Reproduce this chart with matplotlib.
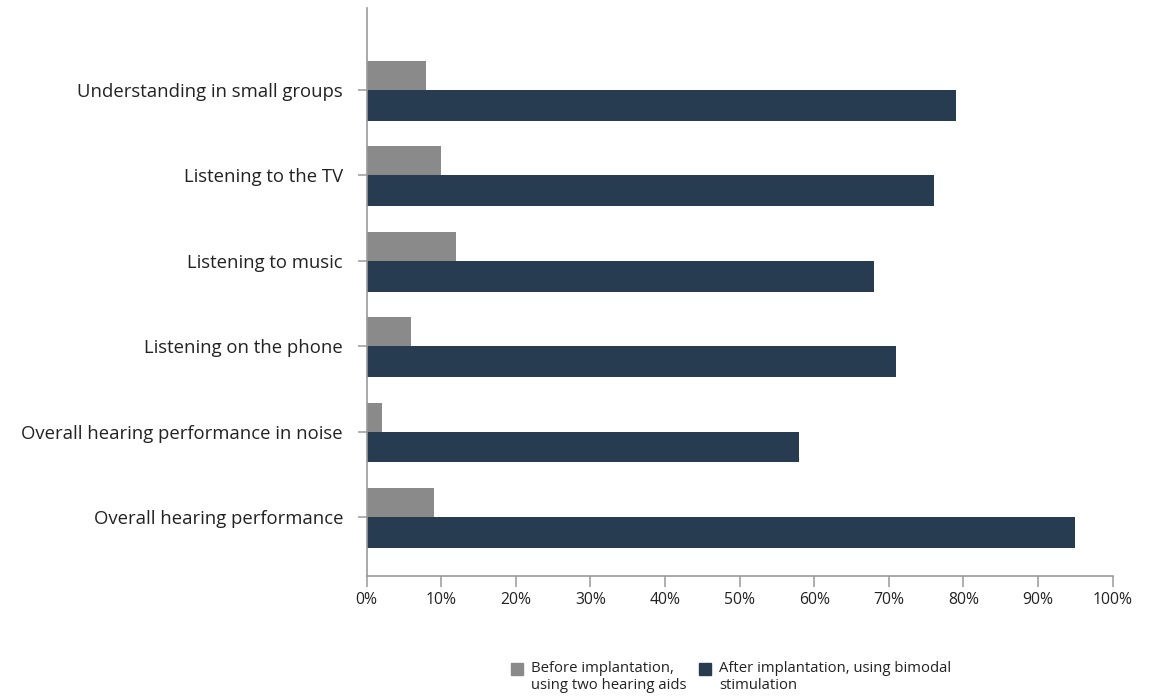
import matplotlib.pyplot as plt
from matplotlib.patches import Rectangle
import numpy as np

plt.rcParams["font.family"] = ["Open Sans", "DejaVu Sans"]

categories = [
    "Understanding in small groups",
    "Listening to the TV",
    "Listening to music",
    "Listening on the phone",
    "Overall hearing performance in noise",
    "Overall hearing performance",
]
before = [8, 10, 12, 6, 2, 9]
after = [79, 76, 68, 71, 58, 95]
xticks = [0, 10, 20, 30, 40, 50, 60, 70, 80, 90, 100]

before_label = "Before implantation,\nusing two hearing aids"
after_label = "After implantation, using bimodal\nstimulation"

grey = "#8a8a8a"
navy = "#283c51"
axis_col = "#9a9a9a"
text_col = "#222222"

fig = plt.figure(figsize=(11.53, 6.99), dpi=100)
ax = fig.add_axes([0.318, 0.176, 0.647, 0.8126])

y = np.arange(len(categories))
h_before = 0.34
h_after = 0.36
ax.barh(y - h_before / 2, before, height=h_before, color=grey)
ax.barh(y + h_after / 2, after, height=h_after, color=navy)

ax.set_xlim(0, 100)
ax.set_ylim(5.69, -0.96)
ax.set_xticks(xticks)
ax.set_xticklabels([f"{t}%" for t in xticks])
ax.set_yticks(y)
ax.set_yticklabels(categories)

for s in ["top", "right"]:
    ax.spines[s].set_visible(False)
for s in ["left", "bottom"]:
    ax.spines[s].set_color(axis_col)
    ax.spines[s].set_linewidth(1.2)

ax.tick_params(axis="x", direction="out", length=8, width=1.1, color=axis_col,
               labelsize=11.3, labelcolor=text_col, pad=3.5)
ax.tick_params(axis="y", direction="out", length=6.5, width=1.1, color=axis_col,
               labelsize=13.3, labelcolor=text_col, pad=10.5)

# legend drawn in figure pixels: square beside the first line of each label
W, H = 1153, 699
def legend_item(x, color, label):
    fig.patches.append(Rectangle((x / W, 1 - 675 / H), 12 / W, 12 / H,
                                 transform=fig.transFigure, color=color))
    fig.text((x + 20) / W, 1 - 661 / H, label, ha="left", va="top",
             fontsize=10.7, color=text_col, linespacing=1.2)

legend_item(511, grey, before_label)
legend_item(699, navy, after_label)

fig.savefig("out.png", dpi=100)
